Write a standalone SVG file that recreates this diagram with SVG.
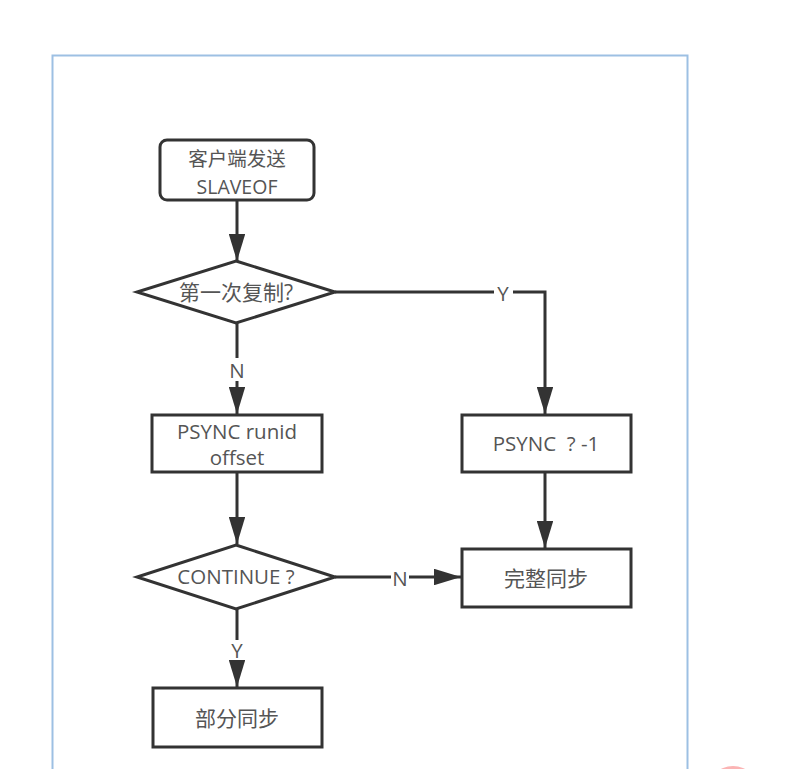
<svg xmlns="http://www.w3.org/2000/svg" width="809" height="769" viewBox="0 0 809 769">
<defs>
<style>
.n{fill:#fff;stroke:#333;stroke-width:3}
.c{fill:none;stroke:#333;stroke-width:3}
.t{font-family:"Open Sans","Noto Sans CJK SC",sans-serif;font-size:20.5px;fill:#555;text-anchor:middle;dominant-baseline:central}
.z{font-size:21px}
.s{font-size:19.5px}
</style>
<marker id="ah" viewBox="0 0 10 10" refX="10" refY="5" markerWidth="9" markerHeight="5.5" orient="auto" markerUnits="strokeWidth" preserveAspectRatio="none">
<path d="M0,0 L10,5 L0,10 z" fill="#333"/>
</marker>
</defs>
<rect x="0" y="0" width="809" height="769" fill="#fff"/>
<rect x="52.5" y="55.5" width="635" height="740" fill="none" stroke="#9dc0e3" stroke-width="2"/>
<circle cx="733" cy="792" r="26" fill="#fbb4b4"/>
<g id="connectors">
<line class="c" x1="237" y1="201" x2="237" y2="261" marker-end="url(#ah)"/>
<polyline class="c" points="335,292 494,292"/>
<polyline class="c" points="513,292 545,292 545,414" marker-end="url(#ah)"/>
<line class="c" x1="237" y1="323" x2="237" y2="358"/>
<line class="c" x1="237" y1="381" x2="237" y2="414" marker-end="url(#ah)"/>
<line class="c" x1="237" y1="472" x2="237" y2="544" marker-end="url(#ah)"/>
<line class="c" x1="545" y1="472" x2="545" y2="548" marker-end="url(#ah)"/>
<line class="c" x1="335" y1="577" x2="391" y2="577"/>
<line class="c" x1="409" y1="577" x2="461" y2="577" marker-end="url(#ah)"/>
<line class="c" x1="237" y1="609" x2="237" y2="640"/>
<line class="c" x1="237" y1="661" x2="237" y2="687" marker-end="url(#ah)"/>
<text class="t" x="503" y="293">Y</text>
<text class="t" x="237" y="370">N</text>
<text class="t" x="400" y="578">N</text>
<text class="t" x="237" y="650">Y</text>
</g>
<g id="start">
<rect class="n" x="160" y="140" width="154" height="60" rx="7"/>
<text class="t s" x="237" y="158">客户端发送</text>
<text class="t s" x="237" y="186">SLAVEOF</text>
</g>
<g id="first">
<polygon class="n" points="236,261 335,292 236,323 137,292"/>
<text class="t z" x="236" y="292">第一次复制?</text>
</g>
<g id="psync-runid">
<rect class="n" x="152" y="415" width="170" height="57"/>
<text class="t" x="237" y="431">PSYNC runid</text>
<text class="t" x="237" y="457">offset</text>
</g>
<g id="psync-1">
<rect class="n" x="462" y="415" width="169" height="57"/>
<text class="t" x="546" y="443" xml:space="preserve">PSYNC  ? -1</text>
</g>
<g id="continue">
<polygon class="n" points="236,545 335,577 236,609 137,577"/>
<text class="t" x="236" y="576">CONTINUE ?</text>
</g>
<g id="full">
<rect class="n" x="462" y="549" width="169" height="58"/>
<text class="t z" x="546" y="578">完整同步</text>
</g>
<g id="partial">
<rect class="n" x="153" y="688" width="169" height="59"/>
<text class="t z" x="237" y="718">部分同步</text>
</g>
</svg>
